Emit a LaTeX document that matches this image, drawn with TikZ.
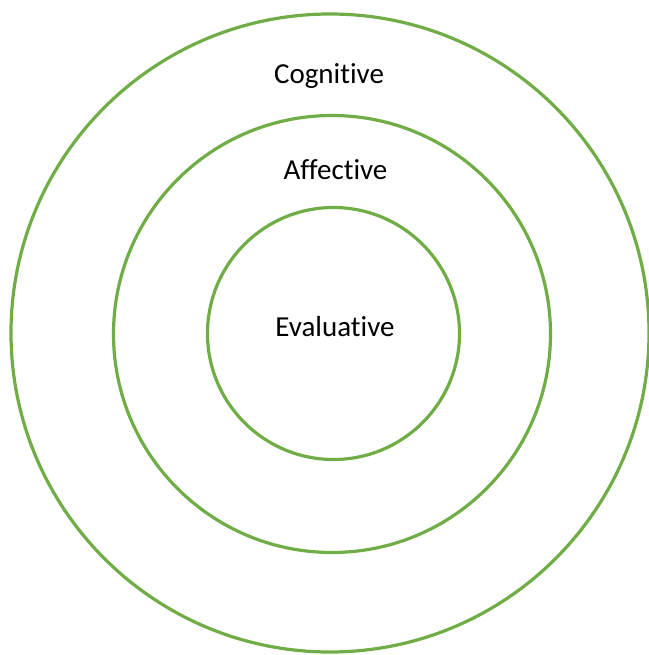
\documentclass[tikz,border=0pt]{standalone}
\usepackage{fontspec}
\setmainfont{Carlito}[Ligatures={NoCommon,NoContextual},Contextuals={NoAlternate}]
\usetikzlibrary{positioning}
\definecolor{ringgreen}{HTML}{70AD47}
\tikzset{
ring/.style={draw=ringgreen, line width=3.2pt},
lbl/.style={anchor=base, inner sep=0pt, font=\fontsize{29}{34}\selectfont}
}

\begin{document}
\begin{tikzpicture}[x=1pt,y=-1pt]
\useasboundingbox (0,0) rectangle (648,655);

\draw[ring] (330,333) circle[radius=319pt];
\draw[ring] (332,334) circle[radius=218.5pt];
\draw[ring] (333.5,333.5) circle[radius=126pt];

\node[lbl](cognitive) at (329,83.3){Cognitive};
\node[lbl](affective) at (335.5,179){Affective};
\node[lbl](evaluative) at (335,336.7){Evaluative};
\end{tikzpicture}
\end{document}
